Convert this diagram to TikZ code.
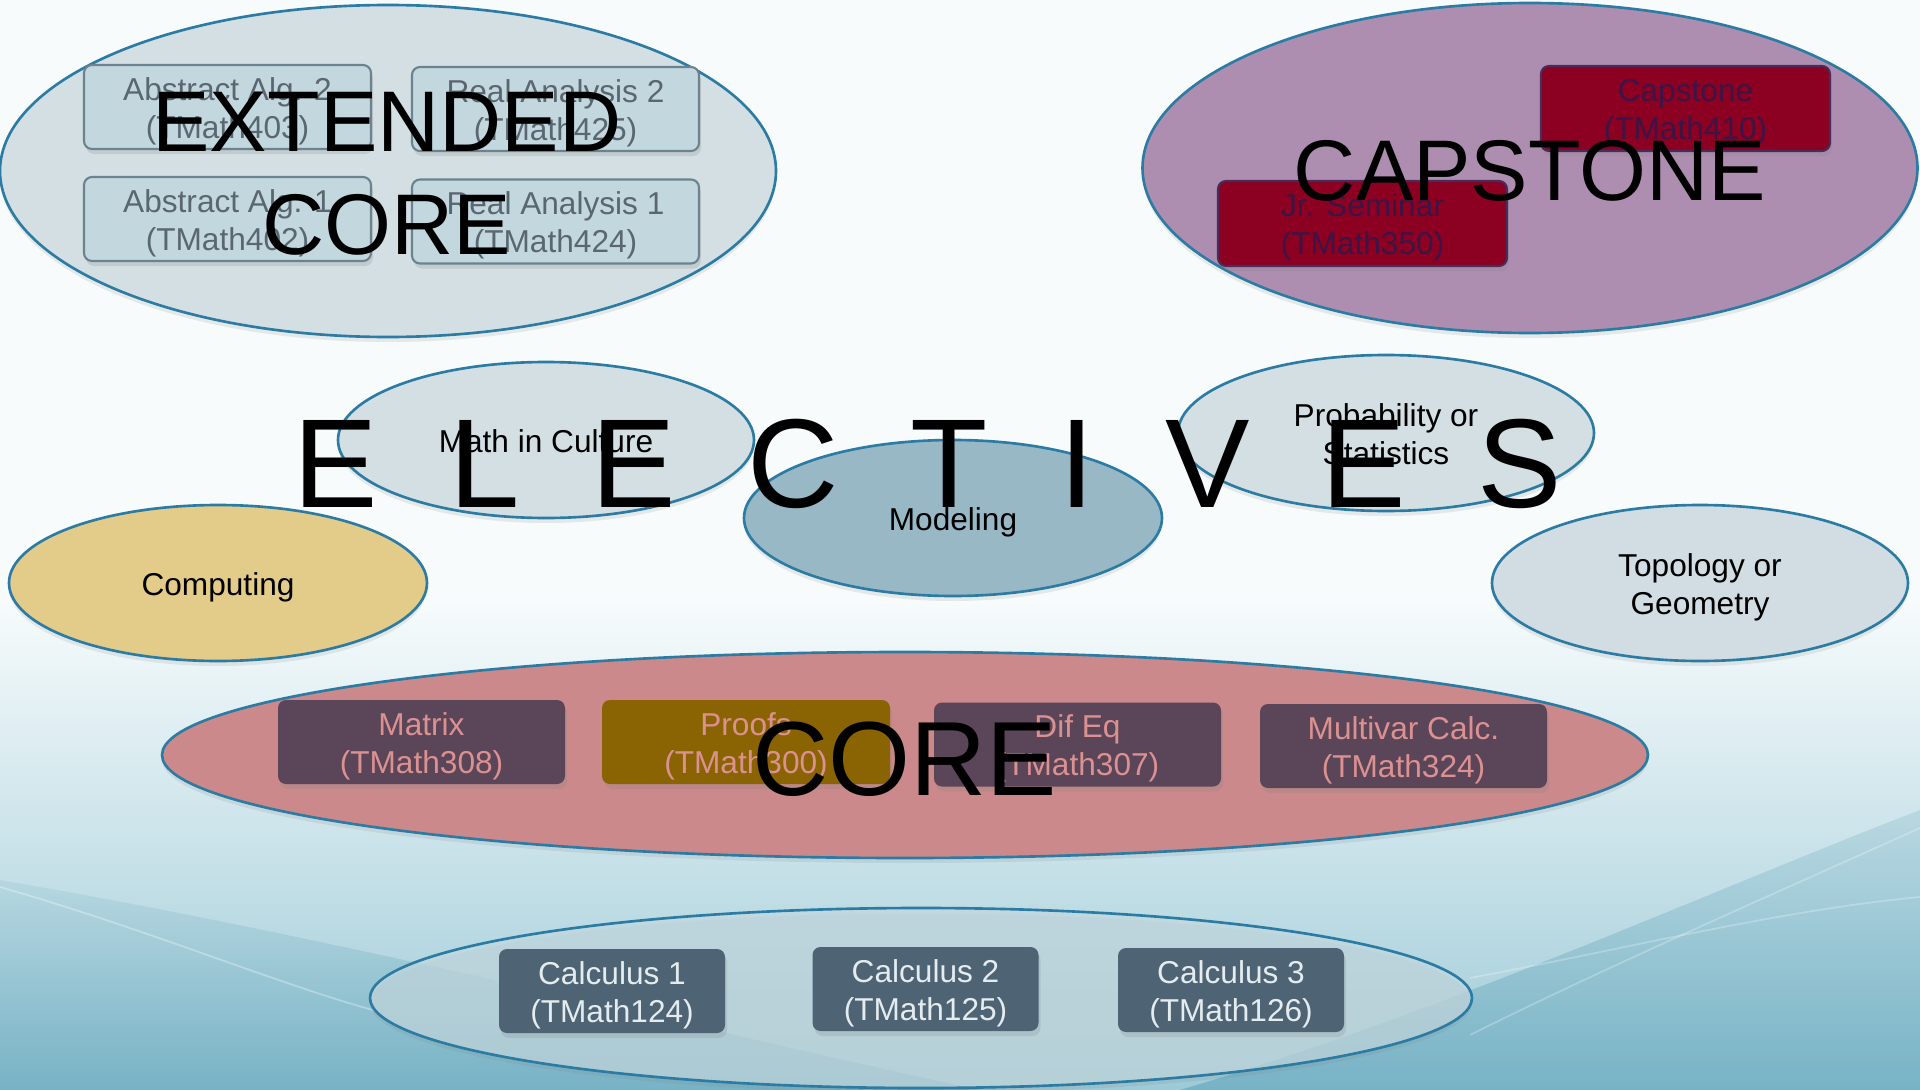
\documentclass[tikz,border=0pt]{standalone}
\usepackage{fontspec}
\setmainfont{Liberation Sans}
\usetikzlibrary{shapes.geometric,shadows}

\definecolor{rim}{HTML}{2B7BA3}
\definecolor{paleblue}{HTML}{D3DFE3}
\definecolor{extbox}{HTML}{C3D7DF}
\definecolor{extedge}{HTML}{6B838F}
\definecolor{exttext}{HTML}{5B6770}
\definecolor{mauve}{HTML}{AE8EB0}
\definecolor{capbox}{HTML}{8C0022}
\definecolor{capedge}{HTML}{4A2C5C}
\definecolor{captext}{HTML}{3C1546}
\definecolor{sand}{HTML}{E3CB8A}
\definecolor{steel}{HTML}{98B8C6}
\definecolor{rose}{HTML}{CB898B}
\definecolor{plum}{HTML}{5B4559}
\definecolor{ochre}{HTML}{8A6402}
\definecolor{coretext}{HTML}{DC9191}
\definecolor{frost}{HTML}{C2D8DF}
\definecolor{slate}{HTML}{4E6373}
\definecolor{calctext}{HTML}{E4ECEF}
\definecolor{skytop}{HTML}{F7FBFC}
\definecolor{skylow}{HTML}{9DCAD7}
\definecolor{sea}{HTML}{6EADC1}
\definecolor{seafoam}{HTML}{B3D5DF}

% invisible strut that raises the first line's height, lowering the text block
\newcommand\firstline[1][8.9pt]{\rule{0pt}{#1}}

\begin{document}
\begin{tikzpicture}[x=0.1mm,y=-0.1mm,
  zone/.style={ellipse, draw=rim, line width=0.75pt, inner sep=0pt, align=center,
    font=\fontsize{9}{10.8}\selectfont,
    drop shadow={shadow xshift=0mm, shadow yshift=-0.5mm, opacity=0.15}},
  course/.style={rectangle, rounded corners=0.8mm, inner sep=0pt, align=center,
    minimum width=28.7mm, minimum height=8.4mm, font=\fontsize{9}{10.8}\selectfont,
    drop shadow={shadow xshift=0.2mm, shadow yshift=-0.5mm, opacity=0.2}},
  extcourse/.style={course, fill=extbox, draw=extedge, line width=0.6pt, text=exttext},
  capcourse/.style={course, minimum width=28.9mm, minimum height=8.5mm, fill=capbox,
    draw=capedge, line width=0.6pt, text=captext},
  corecourse/.style={course, fill=plum, text=coretext},
  calccourse/.style={course, minimum width=22.6mm, fill=slate, text=calctext},
  headline/.style={text=black, inner sep=0pt},
]
% canvas and background wash
\useasboundingbox (0,0) rectangle (1920,1090);
\fill[skytop] (0,0) rectangle (1920,601);
\shade[top color=skytop, bottom color=skylow] (0,600) rectangle (1920,1090);
\shade[top color=seafoam, bottom color=sea, fill opacity=0.8]
  (0,880) .. controls (350,940) and (700,1030) .. (980,1090) -- (0,1090) -- cycle;
\shade[top color=seafoam, bottom color=sea, fill opacity=0.8]
  (1920,810) .. controls (1700,895) and (1450,1010) .. (1180,1090) -- (1920,1090) -- cycle;
\draw[white, opacity=0.3, line width=0.5pt]
  (0,887) .. controls (150,930) and (280,985) .. (380,1012);
\draw[white, opacity=0.25, line width=0.5pt]
  (1920,828) .. controls (1760,900) and (1600,970) .. (1470,1035);
\draw[white, opacity=0.25, line width=0.5pt]
  (1920,897) .. controls (1780,910) and (1620,950) .. (1470,978);

% extended core
\node[zone, fill=paleblue, minimum width=77.6mm, minimum height=33.2mm] (extzone) at (388,171) {};
\node[extcourse] (alg2) at (227.5,107) {\firstline Abstract Alg. 2\\(TMath403)};
\node[extcourse] (ana2) at (555.5,109) {\firstline Real Analysis 2\\(TMath425)};
\node[extcourse] (alg1) at (227.5,219) {\firstline Abstract Alg. 1\\(TMath402)};
\node[extcourse] (ana1) at (555.5,221.5) {\firstline Real Analysis 1\\(TMath424)};

% capstone
\node[zone, fill=mauve, minimum width=77.5mm, minimum height=33.0mm] (capzone) at (1530,168) {};
\node[capcourse] (capst) at (1685.5,108.5) {\firstline Capstone\\(TMath410)};
\node[capcourse] (jrsem) at (1362.5,223.5) {\firstline Jr. Seminar\\(TMath350)};

% electives
\node[zone, fill=paleblue, minimum width=41.6mm, minimum height=15.6mm] (culture) at (546,440) {\firstline[7.3pt]Math in Culture};
\node[zone, fill=sand, minimum width=41.8mm, minimum height=15.6mm] (computing) at (218,583) {\firstline Computing};
\node[zone, fill=steel, minimum width=41.8mm, minimum height=15.6mm] (modeling) at (953,518) {\firstline Modeling};
\node[zone, fill=paleblue, minimum width=41.6mm, minimum height=15.6mm] (probstat) at (1386,433) {\firstline[7.3pt]Probability or\\Statistics};
\node[zone, fill=paleblue!96!steel, minimum width=41.6mm, minimum height=15.6mm] (topgeo) at (1700,583) {\firstline Topology or\\Geometry};

% core
\node[zone, fill=rose, minimum width=148.6mm, minimum height=20.6mm] (corezone) at (905,755) {};
\node[corecourse] (matrix) at (421.5,742) {\firstline Matrix\\(TMath308)};
\node[corecourse, fill=ochre, minimum width=28.8mm] (proofs) at (746,742) {\firstline Proofs\\(TMath300)};
\node[corecourse] (difeq) at (1077.5,744.5) {\firstline Dif Eq\\(TMath307)};
\node[corecourse] (multivar) at (1403.5,746) {\firstline Multivar Calc.\\(TMath324)};

% calculus sequence
\node[zone, fill=frost, fill opacity=0.7, minimum width=110.2mm, minimum height=18.0mm] (calczone) at (921,998) {};
\node[calccourse] (calc1) at (612,991) {\firstline Calculus 1\\(TMath124)};
\node[calccourse] (calc2) at (925.5,989) {\firstline Calculus 2\\(TMath125)};
\node[calccourse] (calc3) at (1231,990) {\firstline Calculus 3\\(TMath126)};

% group titles
\node[headline, align=center, font=\fontsize{24.5}{29.3}\selectfont] (exttitle) at (387,174) {EXTENDED\\CORE};
\node[headline, anchor=base, font=\fontsize{24.5}{29.3}\selectfont] (captitle) at (1530,200) {CAPSTONE};
\node[headline, anchor=base, font=\fontsize{36}{40}\selectfont] (electitle) at (928,507)
  {E\hspace{7.15mm}L\hspace{7.15mm}E\hspace{7.15mm}C\hspace{7.15mm}T\hspace{7.15mm}I\hspace{7.15mm}V\hspace{7.15mm}E\hspace{7.15mm}S};
\node[headline, anchor=base, font=\fontsize{30}{34}\selectfont] (coretitle) at (905,795) {CORE};
\end{tikzpicture}
\end{document}
